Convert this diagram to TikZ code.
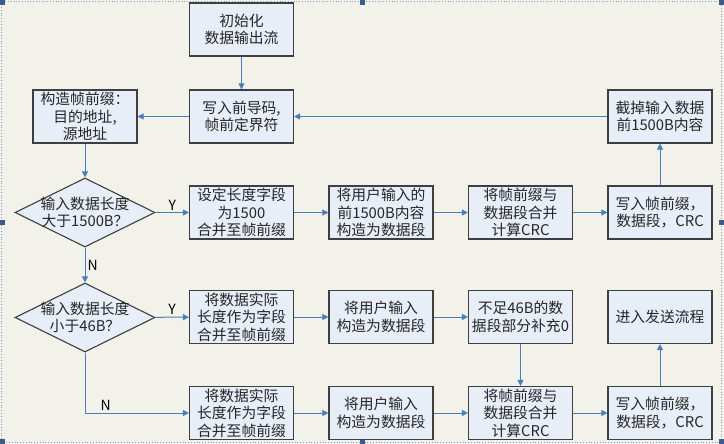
\documentclass[tikz,border=0pt]{standalone}
\usepackage{fontspec}
\setmainfont{Noto Sans CJK SC}
\usetikzlibrary{shapes.geometric,arrows.meta}
\definecolor{bg}{HTML}{F2F2EA}
\definecolor{boxfill}{HTML}{E8EEF8}
\definecolor{boxline}{HTML}{3F3F3F}
\definecolor{arrowc}{HTML}{4A7EBB}
\definecolor{txt}{HTML}{262626}
\definecolor{handle}{HTML}{3C5A8C}
\definecolor{frame}{HTML}{7F9CC8}
\begin{document}
\begin{tikzpicture}[x=1pt,y=-1pt,
 box/.style={draw=boxline, line width=1.1pt, fill=boxfill, minimum width=104pt, minimum height=53pt, inner sep=0pt, align=center, font=\fontsize{14.8}{17.5}\selectfont, text=txt},
 dia/.style={diamond, draw=boxline, line width=1.1pt, fill=boxfill, minimum width=140pt, minimum height=69pt, inner sep=0pt},
 diatext/.style={align=center, font=\fontsize{14.8}{17.5}\selectfont, text=txt, inner sep=0pt},
 conn/.style={draw=arrowc, line width=1pt, -{Triangle[length=6pt,width=6pt]}},
 lab/.style={font=\fontsize{14}{16}\selectfont, text=black, inner sep=2pt},
 hd/.style={fill=handle, draw=none}
]
\useasboundingbox (0,0) rectangle (724,444);
\fill[bg] (0,0) rectangle (724,444);
\draw[frame, dotted, line width=0.8pt] (1.5,1.5) rectangle (721,442);
\foreach \hx/\hy in {0/0,360/0,719/0,0/220,719/220,0/439,360/439,719/439}
  \fill[handle] (\hx,\hy) rectangle ++(5,5);

% row 0 / 1
\node[box] (init) at (241.5,29.5) {初始化\\数据输出流};
\node[box] (pre)  at (241.5,116.5) {写入前导码,\\帧前定界符};
\node[box] (pfx)  at (85,116.5) {构造帧前缀：\\目的地址,\\源地址};
\node[box] (cut)  at (660,116.5) {截掉输入数据\\前1500B内容};

% row 2
\node[dia] (d1) at (85,212.5) {};
\node[diatext] (d1t) at (d1.center) {输入数据长度\\大于1500B？};
\node[box] (r2b) at (241.5,212.5) {设定长度字段\\为1500\\合并至帧前缀};
\node[box] (r2c) at (381,212.5) {将用户输入的\\前1500B内容\\构造为数据段};
\node[box] (r2d) at (520.5,212.5) {将帧前缀与\\数据段合并\\计算CRC};
\node[box] (r2e) at (660,212.5) {写入帧前缀，\\数据段，CRC};

% row 3
\node[dia] (d2) at (85,317.5) {};
\node[diatext] (d2t) at (d2.center) {输入数据长度\\小于46B？};
\node[box] (r3b) at (241.5,317) {将数据实际\\长度作为字段\\合并至帧前缀};
\node[box] (r3c) at (381,317) {将用户输入\\构造为数据段};
\node[box] (r3d) at (520.5,317) {不足46B的数\\据段部分补充0};
\node[box] (r3e) at (660,317) {进入发送流程};

% row 4
\node[box] (r4b) at (241.5,413) {将数据实际\\长度作为字段\\合并至帧前缀};
\node[box] (r4c) at (381,413) {将用户输入\\构造为数据段};
\node[box] (r4d) at (520.5,413) {将帧前缀与\\数据段合并\\计算CRC};
\node[box] (r4e) at (660,413) {写入帧前缀，\\数据段，CRC};

% connectors
\draw[conn] (init) -- (pre);
\draw[conn] (cut) -- (pre);
\draw[conn] (pre) -- (pfx);
\draw[conn] (pfx) -- (d1);
\draw[conn] (d1) -- node[lab, above]{Y} (r2b);
\draw[conn] (d1) -- node[lab, right]{N} (d2);
\draw[conn] (r2b) -- (r2c);
\draw[conn] (r2c) -- (r2d);
\draw[conn] (r2d) -- (r2e);
\draw[conn] (r2e) -- (cut);
\draw[conn] (d2) -- node[lab, above]{Y} (r3b);
\draw[conn] (d2.south) |- node[lab, above, pos=0.6]{N} (r4b.west);
\draw[conn] (r3b) -- (r3c);
\draw[conn] (r3c) -- (r3d);
\draw[conn] (r3d) -- (r4d);
\draw[conn] (r4b) -- (r4c);
\draw[conn] (r4c) -- (r4d);
\draw[conn] (r4d) -- (r4e);
\draw[conn] (r4e) -- (r3e);
\end{tikzpicture}
\end{document}
